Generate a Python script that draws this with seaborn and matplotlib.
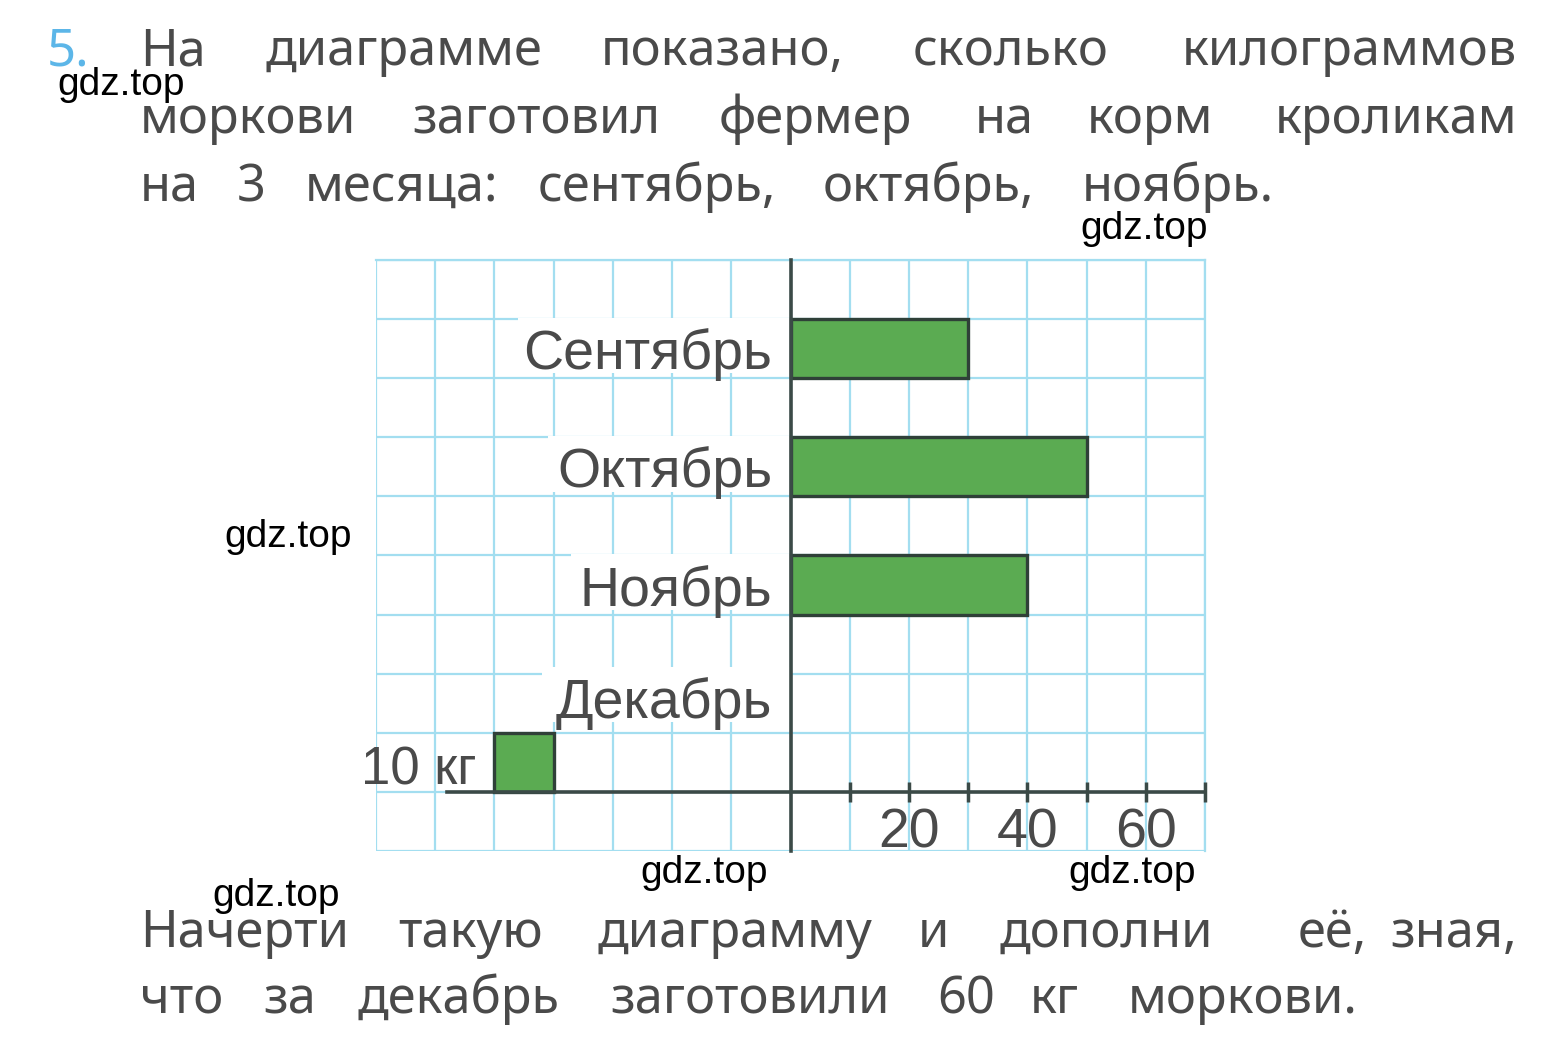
import numpy as np
import pandas as pd
import matplotlib
matplotlib.use("Agg")
import matplotlib.pyplot as plt
import seaborn as sns
from matplotlib.patches import Rectangle

# ---------------- data ----------------
months = ["Сентябрь", "Октябрь", "Ноябрь", "Декабрь"]
kg = [30, 50, 40, np.nan]          # December is not drawn yet
x_ticks = [10, 20, 30, 40, 50, 60, 70]
x_tick_labels = ["", "20", "", "40", "", "60", ""]
legend_value = 10
legend_label = "10 кг"

task_number = "5."
top_lines = [
    ["На", "диаграмме", "показано,", "сколько", "килограммов"],
    ["моркови", "заготовил", "фермер", "на", "корм", "кроликам"],
    ["на", "3", "месяца:", "сентябрь,", "октябрь,", "ноябрь."],
]
top_x = [
    [140, 265, 601, 913, 1517],
    [140, 412, 719, 975, 1087, 1517],
    [140, 237, 305, 538, 823, 1082],
]
bottom_lines = [
    ["Начерти", "такую", "диаграмму", "и", "дополни", "её,", "зная,"],
    ["что", "за", "декабрь", "заготовили", "60", "кг", "моркови."],
]
bottom_x = [
    [140, 398, 598, 918, 1000, 1298, 1517],
    [140, 263, 358, 610, 937, 1030, 1128],
]
watermark = "gdz.top"
watermark_pos = [(57, 85), (1080, 229), (224, 537), (652, 537),
                 (640, 873), (1068, 873), (212, 896)]

# ---------------- layout / style ----------------
label_pos = [0, 1, 2, 2.95]            # y positions of the month labels
label_mask_left = [-46, -41, -37, -42]  # white area behind each label (kg units)
GREEN = "#5bab52"
EDGE = "#2f4038"
AXC = "#3b4a47"
GRID = "#a3def0"
TXT = "#4a4a4a"
BLUE = "#5cb6e8"

sns.set_theme(style="white")
plt.rcParams["font.family"] = ["Liberation Sans", "DejaVu Sans"]

fig = plt.figure(figsize=(15.62, 10.5), dpi=100)
fig.patch.set_facecolor("white")

bg = fig.add_axes([0, 0, 1, 1])
bg.set_xlim(0, 1562)
bg.set_ylim(1050, 0)
bg.axis("off")

ax = fig.add_axes([376 / 1562, 1 - 851 / 1050, (1205 - 376) / 1562, (851 - 260) / 1050])
ax.set_facecolor("white")

df = pd.DataFrame({"month": months, "kg": kg}).dropna()
sns.barplot(data=df, x="kg", y="month", order=months, orient="h", width=0.5,
            color=GREEN, saturation=1, edgecolor=EDGE, linewidth=2.4,
            errorbar=None, ax=ax, zorder=3)

ax.set_xlim(-70, 70)
ax.set_ylim(4.25, -0.75)
ax.set_xlabel("")
ax.set_ylabel("")
ax.grid(False)
ax.set_axisbelow(False)

# squared paper grid
ax.vlines(np.arange(-70, 71, 10), -0.75, 4.25, colors=GRID, lw=1.6, zorder=0.5)
ax.hlines(np.arange(-0.75, 4.26, 0.5), -70, 70, colors=GRID, lw=1.6, zorder=0.5)

# white area behind the month labels
for p, left in zip(label_pos, label_mask_left):
    ax.add_patch(Rectangle((left, p - 0.26), -left, 0.47, facecolor="white",
                           edgecolor="none", zorder=1))

ax.set_xticks(x_ticks)
ax.set_xticklabels(x_tick_labels)
ax.set_yticks(label_pos)
ax.set_yticklabels(months)
ax.tick_params(axis="x", which="major", direction="inout", length=14, width=2.5,
               color=AXC, labelsize=40, labelcolor=TXT, pad=4)
ax.tick_params(axis="y", which="major", length=0, labelsize=40, labelcolor=TXT, pad=13)
ax.tick_params(which="minor", length=0)
ax.xaxis.set_ticks_position("bottom")
ax.yaxis.set_ticks_position("left")
ax.xaxis.set_zorder(2.5)
ax.yaxis.set_zorder(2.5)

ax.spines["left"].set_position(("data", 0))
ax.spines["bottom"].set_position(("data", 3.75))
ax.spines["bottom"].set_bounds(-58, 70)
for s in ["left", "bottom"]:
    ax.spines[s].set_color(AXC)
    ax.spines[s].set_linewidth(2.6)
    ax.spines[s].set_zorder(4)
for s in ["top", "right"]:
    ax.spines[s].set_color(GRID)
    ax.spines[s].set_linewidth(1.6)

# scale key: one square = 10 kg
ax.add_patch(Rectangle((-50, 3.75), legend_value, -0.5, facecolor=GREEN,
                       edgecolor=EDGE, lw=2.4, zorder=3))
ax.text(-53, 3.57, legend_label, ha="right", va="center", fontsize=38, color=TXT)

# ---------------- text around ----------------
PFONT = ["Noto Sans", "DejaVu Sans"]
PSIZE = 36.5
bg.text(47, 65, task_number, fontsize=PSIZE, color=BLUE, fontweight="bold",
        family=PFONT, va="baseline", ha="left")


def put_line(words, xs, yb, justified):
    n = len(words)
    for k, (w, x) in enumerate(zip(words, xs)):
        ha = "right" if (justified and k == n - 1) else "left"
        bg.text(x, yb, w, fontsize=PSIZE, color=TXT, family=PFONT,
                va="baseline", ha=ha)


for i, (words, xs) in enumerate(zip(top_lines, top_x)):
    put_line(words, xs, 65 + 68 * i, justified=(i < len(top_lines) - 1))
for i, (words, xs) in enumerate(zip(bottom_lines, bottom_x)):
    put_line(words, xs, 947 + 66 * i, justified=(i < len(bottom_lines) - 1))

for (x, y) in watermark_pos:
    bg.text(x, y, watermark, fontsize=28, color="black", va="center", ha="left",
            family=["Liberation Sans", "DejaVu Sans"], zorder=10)

fig.savefig("out.png", dpi=100, facecolor="white")
